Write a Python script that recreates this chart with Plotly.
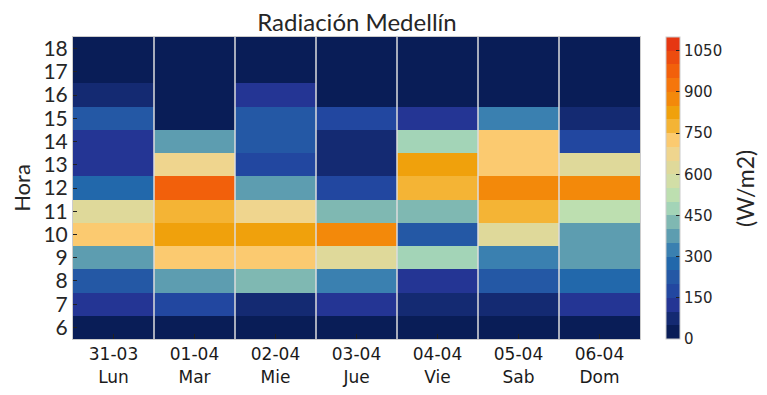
import plotly.graph_objects as go

# ---- data ----
dias = ["31-03<br>Lun", "01-04<br>Mar", "02-04<br>Mie", "03-04<br>Jue",
        "04-04<br>Vie", "05-04<br>Sab", "06-04<br>Dom"]
horas = [6, 7, 8, 9, 10, 11, 12, 13, 14, 15, 16, 17, 18]

lun = [10, 130, 220, 380, 730, 620, 280, 130, 125, 225, 75, 5, 0]
mar = [10, 180, 370, 720, 820, 770, 970, 670, 380, 20, 5, 0, 0]
mie = [15, 80, 420, 720, 830, 680, 390, 180, 230, 220, 130, 10, 0]
jue = [10, 140, 320, 630, 870, 430, 190, 70, 70, 190, 20, 0, 0]
vie = [15, 80, 140, 480, 220, 420, 770, 820, 470, 130, 20, 0, 0]
sab = [15, 85, 230, 330, 630, 780, 870, 720, 740, 320, 10, 0, 0]
dom = [10, 130, 280, 380, 370, 520, 880, 620, 190, 80, 10, 0, 0]

colores = ["#091d57", "#142a72", "#243594", "#2247a0", "#2458a5", "#2268ab",
           "#3a80b0", "#5d9db0", "#7fb8b2", "#a3d4b7", "#bddfb0", "#d2dea6",
           "#dfd99a", "#efd58e", "#fbca70", "#f4b435", "#f0a10c", "#f3890a",
           "#f5760c", "#f2600b", "#ec4c0f", "#e63712"]
zmin, zmax = 0, 1100
cb_ticks = [0, 150, 300, 450, 600, 750, 900, 1050]

# ---- build ----
series = [lun, mar, mie, jue, vie, sab, dom]
z = [[series[d][h] for d in range(len(dias))] for h in range(len(horas))]
xs = list(range(len(dias)))

n = len(colores)
cscale = []
for i, c in enumerate(colores):
    cscale.append([i / n, c])
    cscale.append([(i + 1) / n, c])

fig = go.Figure(go.Heatmap(
    z=z, x=xs, y=horas, zmin=zmin, zmax=zmax, colorscale=cscale,
    colorbar=dict(
        x=1.045, xanchor="left", y=0.5, yanchor="middle", len=1.0,
        ypad=0, xpad=0,
        thickness=14, outlinecolor="#cccccc", outlinewidth=1,
        tickvals=cb_ticks, ticks="inside", ticklen=4, tickcolor="#222",
        tickfont=dict(family="DejaVu Sans", size=15, color="#262626"),
    ),
    hoverongaps=False,
))

for i in range(len(dias) - 1):
    fig.add_shape(type="line", xref="x", yref="paper",
                  x0=i + 0.5, x1=i + 0.5, y0=0, y1=1,
                  line=dict(color="#dddddd", width=1.5))

fig.add_annotation(text="(W/m2)", xref="paper", yref="paper",
                   x=1.185, y=0.5, xanchor="center", yanchor="middle",
                   textangle=-90, showarrow=False,
                   font=dict(family="Lato", size=23, color="#262626"))

fig.update_layout(
    width=767, height=395,
    margin=dict(l=65, r=135, t=29, b=64),
    plot_bgcolor="white", paper_bgcolor="white",
    title=dict(text="Radiación Medellín", x=0.455, xanchor="center",
               y=0.962, yanchor="middle",
               font=dict(family="Lato", size=24, color="#262626")),
)
fig.update_xaxes(
    tickvals=xs, ticktext=dias, range=[-0.5, len(dias) - 0.5],
    ticks="inside", ticklen=5, tickcolor="#222", automargin=False,
    showline=True, mirror=True, linecolor="#cccccc", linewidth=1,
    showgrid=False, zeroline=False,
    tickfont=dict(family="DejaVu Sans", size=17, color="#1a1a1a"),
)
fig.update_yaxes(
    tickvals=horas, range=[horas[0] - 0.5, horas[-1] + 0.5],
    ticks="inside", ticklen=4, tickcolor="#222", automargin=False,
    showline=True, mirror=True, linecolor="#cccccc", linewidth=1,
    showgrid=False, zeroline=False,
    tickfont=dict(family="Lato", size=21, color="#262626"),
    title=dict(text="Hora", standoff=13,
               font=dict(family="Lato", size=22, color="#262626")),
)

fig.write_html("out.html")
